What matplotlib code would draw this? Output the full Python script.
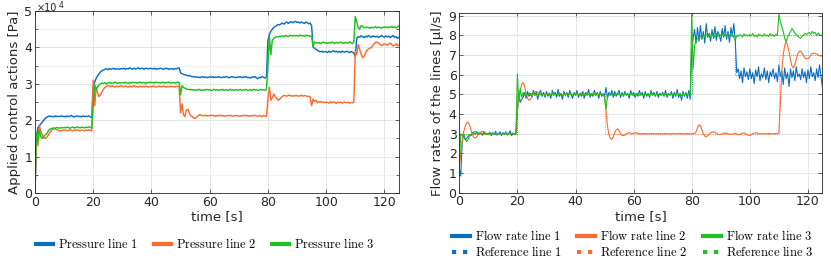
import numpy as np
import matplotlib
matplotlib.use('Agg')
import matplotlib.pyplot as plt
from matplotlib.ticker import MultipleLocator, FuncFormatter

matplotlib.rcParams.update({'font.family': 'DejaVu Sans', 'font.size': 9,
                            'mathtext.fontset': 'cm'})

# sample times [s], one value every 0.5 s
t = np.arange(0, 125.01, 0.5)

# applied pressures, in units of 1e4 Pa (one row = 10 s)
p1 = [0.0, 1.5, 1.8, 1.85, 1.9, 1.95, 2.0, 2.05, 2.08, 2.1, 2.12, 2.1, 2.11, 2.09, 2.12, 2.1, 2.11, 2.1, 2.12, 2.1,
      2.11, 2.09, 2.12, 2.1, 2.11, 2.13, 2.1, 2.09, 2.11, 2.12, 2.1, 2.11, 2.09, 2.12, 2.1, 2.11, 2.1, 2.12, 2.09, 2.08,
      2.95, 3.05, 3.15, 3.22, 3.28, 3.33, 3.36, 3.38, 3.4, 3.41, 3.39, 3.42, 3.4, 3.41, 3.43, 3.4, 3.42, 3.41, 3.4, 3.42,
      3.41, 3.43, 3.4, 3.42, 3.41, 3.44, 3.42, 3.4, 3.43, 3.41, 3.42, 3.44, 3.41, 3.43, 3.42, 3.4, 3.43, 3.42, 3.41, 3.43,
      3.42, 3.41, 3.43, 3.4, 3.42, 3.41, 3.43, 3.42, 3.4, 3.41, 3.43, 3.42, 3.4, 3.41, 3.42, 3.4, 3.42, 3.41, 3.43, 3.44,
      3.3, 3.28, 3.26, 3.25, 3.24, 3.22, 3.23, 3.21, 3.2, 3.19, 3.2, 3.18, 3.19, 3.17, 3.18, 3.2, 3.18, 3.19, 3.17, 3.18,
      3.19, 3.18, 3.2, 3.17, 3.19, 3.18, 3.2, 3.18, 3.17, 3.19, 3.18, 3.2, 3.19, 3.17, 3.18, 3.2, 3.19, 3.18, 3.17, 3.19,
      3.18, 3.2, 3.17, 3.19, 3.18, 3.2, 3.17, 3.18, 3.16, 3.19, 3.18, 3.2, 3.17, 3.14, 3.18, 3.17, 3.2, 3.18, 3.16, 3.2,
      4.2, 4.35, 4.45, 4.5, 4.55, 4.58, 4.6, 4.63, 4.62, 4.65, 4.67, 4.64, 4.68, 4.7, 4.66, 4.69, 4.71, 4.68, 4.7, 4.72,
      4.69, 4.7, 4.67, 4.7, 4.68, 4.66, 4.7, 4.68, 4.65, 4.67, 4.6, 4.02, 3.98, 3.95, 3.92, 3.9, 3.88, 3.9, 3.87, 3.89,
      3.88, 3.86, 3.9, 3.87, 3.89, 3.91, 3.88, 3.9, 3.87, 3.89, 3.86, 3.9, 3.88, 3.87, 3.9, 3.88, 3.86, 3.89, 3.87, 3.85,
      3.75, 4.25, 4.3, 4.28, 4.32, 4.3, 4.27, 4.31, 4.29, 4.33, 4.3, 4.28, 4.32, 4.3, 4.29, 4.31, 4.28, 4.3, 4.33, 4.3,
      4.28, 4.32, 4.29, 4.31, 4.27, 4.3, 4.33, 4.28, 4.3, 4.25, 4.28]
p2 = [0.0, 1.55, 1.3, 1.85, 1.7, 1.6, 1.52, 1.5, 1.53, 1.58, 1.65, 1.7, 1.75, 1.77, 1.76, 1.74, 1.72, 1.71, 1.72, 1.73,
      1.72, 1.73, 1.71, 1.72, 1.74, 1.72, 1.71, 1.73, 1.72, 1.74, 1.72, 1.71, 1.73, 1.72, 1.71, 1.73, 1.72, 1.74, 1.72, 1.71,
      3.1, 2.4, 2.9, 2.75, 2.65, 2.7, 2.78, 2.85, 2.9, 2.93, 2.95, 2.94, 2.92, 2.95, 2.93, 2.91, 2.94, 2.92, 2.93, 2.95,
      2.93, 2.92, 2.94, 2.93, 2.91, 2.94, 2.92, 2.93, 2.95, 2.92, 2.93, 2.91, 2.94, 2.92, 2.93, 2.92, 2.94, 2.93, 2.91, 2.93,
      2.92, 2.94, 2.93, 2.91, 2.92, 2.94, 2.93, 2.92, 2.94, 2.93, 2.91, 2.93, 2.92, 2.94, 2.92, 2.93, 2.91, 2.94, 2.93, 2.92,
      2.2, 2.45, 2.15, 2.1, 2.28, 2.3, 2.2, 2.12, 2.1, 2.06, 2.05, 2.08, 2.12, 2.15, 2.14, 2.13, 2.12, 2.14, 2.12, 2.13,
      2.12, 2.14, 2.13, 2.12, 2.11, 2.13, 2.12, 2.14, 2.12, 2.13, 2.11, 2.12, 2.13, 2.12, 2.14, 2.12, 2.11, 2.13, 2.12, 2.13,
      2.12, 2.11, 2.13, 2.12, 2.14, 2.12, 2.13, 2.11, 2.12, 2.13, 2.12, 2.14, 2.12, 2.11, 2.13, 2.12, 2.1, 2.13, 2.12, 2.11,
      2.6, 2.9, 2.55, 2.62, 2.72, 2.65, 2.6, 2.55, 2.58, 2.62, 2.66, 2.68, 2.67, 2.66, 2.69, 2.68, 2.67, 2.66, 2.68, 2.67,
      2.68, 2.66, 2.67, 2.69, 2.66, 2.68, 2.67, 2.65, 2.66, 2.64, 2.4, 2.58, 2.52, 2.55, 2.48, 2.5, 2.52, 2.49, 2.5, 2.48,
      2.5, 2.49, 2.47, 2.51, 2.48, 2.5, 2.49, 2.46, 2.5, 2.48, 2.5, 2.47, 2.49, 2.5, 2.48, 2.5, 2.47, 2.49, 2.48, 2.5,
      3.9, 3.8, 4.08, 3.95, 3.82, 3.72, 3.75, 3.85, 3.92, 3.96, 3.98, 4.0, 4.05, 4.1, 4.14, 4.15, 4.12, 4.08, 4.05, 4.08,
      4.1, 4.08, 4.06, 4.1, 4.12, 4.08, 4.04, 4.07, 4.1, 4.05, 4.08]
p3 = [0.3, 1.65, 1.4, 1.75, 1.55, 1.5, 1.55, 1.6, 1.62, 1.7, 1.75, 1.77, 1.78, 1.79, 1.78, 1.8, 1.79, 1.78, 1.8, 1.79,
      1.8, 1.79, 1.81, 1.8, 1.78, 1.8, 1.81, 1.79, 1.8, 1.82, 1.8, 1.79, 1.81, 1.8, 1.79, 1.81, 1.8, 1.82, 1.8, 1.79,
      2.4, 2.98, 2.85, 2.92, 2.97, 3.0, 3.02, 3.01, 3.03, 3.0, 3.02, 3.04, 3.01, 3.03, 3.02, 3.05, 3.03, 3.01, 3.04, 3.02,
      3.04, 3.02, 3.05, 3.03, 3.01, 3.04, 3.02, 3.05, 3.03, 3.04, 3.02, 3.03, 3.05, 3.02, 3.04, 3.03, 3.01, 3.04, 3.03, 3.05,
      3.03, 3.04, 3.02, 3.05, 3.03, 3.04, 3.02, 3.03, 3.05, 3.02, 3.04, 3.03, 3.05, 3.02, 3.03, 3.04, 3.02, 3.03, 3.05, 3.04,
      2.7, 2.95, 2.9, 2.88, 2.86, 2.85, 2.84, 2.85, 2.83, 2.84, 2.82, 2.84, 2.83, 2.85, 2.83, 2.82, 2.84, 2.83, 2.85, 2.83,
      2.84, 2.82, 2.83, 2.85, 2.83, 2.84, 2.82, 2.84, 2.83, 2.85, 2.82, 2.84, 2.83, 2.82, 2.85, 2.83, 2.84, 2.82, 2.84, 2.83,
      2.83, 2.85, 2.82, 2.84, 2.83, 2.85, 2.82, 2.83, 2.84, 2.82, 2.85, 2.83, 2.84, 2.82, 2.83, 2.85, 2.83, 2.84, 2.82, 2.85,
      3.5, 4.3, 3.8, 4.2, 4.25, 4.28, 4.3, 4.29, 4.31, 4.3, 4.32, 4.3, 4.33, 4.31, 4.3, 4.32, 4.34, 4.31, 4.33, 4.32,
      4.33, 4.31, 4.34, 4.32, 4.33, 4.31, 4.34, 4.32, 4.33, 4.3, 4.32, 4.02, 4.15, 4.13, 4.12, 4.14, 4.1, 4.13, 4.15, 4.12,
      4.13, 4.11, 4.14, 4.12, 4.15, 4.13, 4.11, 4.14, 4.12, 4.13, 4.15, 4.12, 4.11, 4.14, 4.13, 4.12, 4.15, 4.13, 4.11, 4.14,
      4.85, 4.7, 4.55, 4.5, 4.6, 4.58, 4.55, 4.54, 4.56, 4.55, 4.53, 4.56, 4.54, 4.55, 4.57, 4.54, 4.56, 4.55, 4.53, 4.56,
      4.55, 4.57, 4.54, 4.56, 4.55, 4.58, 4.55, 4.57, 4.54, 4.56, 4.6]

# measured flow rates [ul/s]
q1 = [1.2, 0.85, 2.6, 3.0, 2.7, 2.75, 2.85, 2.95, 2.9, 3.0, 3.05, 2.98, 3.08, 2.95, 3.05, 3.0, 2.92, 3.1, 2.98, 3.02,
      2.95, 3.08, 2.9, 3.05, 2.97, 3.12, 2.92, 3.0, 3.1, 2.9, 3.06, 2.96, 3.1, 2.93, 3.02, 3.15, 2.9, 3.04, 2.95, 3.1,
      4.2, 5.0, 4.6, 4.75, 4.85, 5.1, 4.8, 5.15, 4.9, 5.05, 4.85, 5.2, 4.95, 5.1, 4.75, 5.05, 5.2, 4.9, 5.1, 4.85,
      5.15, 4.9, 5.05, 4.8, 5.2, 4.95, 5.1, 4.85, 5.25, 4.9, 5.05, 4.75, 5.15, 4.95, 5.1, 4.85, 5.2, 5.0, 4.8, 5.1,
      4.95, 5.2, 4.85, 5.05, 4.9, 5.15, 4.8, 5.1, 4.95, 5.25, 4.85, 5.05, 4.9, 5.2, 4.95, 5.1, 4.8, 5.15, 4.9, 5.05,
      4.9, 5.35, 4.8, 5.1, 4.95, 5.2, 4.85, 5.15, 4.9, 5.05, 5.2, 4.85, 5.1, 4.9, 5.15, 4.95, 5.05, 4.8, 5.2, 4.95,
      5.1, 4.85, 5.05, 4.9, 5.2, 4.95, 5.1, 4.8, 5.15, 4.9, 5.05, 4.85, 5.2, 4.95, 5.1, 4.9, 5.15, 4.85, 5.05, 4.95,
      5.1, 4.9, 5.2, 4.85, 5.05, 4.95, 5.15, 4.8, 5.1, 4.9, 5.25, 4.85, 5.05, 4.7, 5.15, 4.9, 5.1, 4.8, 5.2, 4.75,
      7.2, 7.9, 8.3, 7.6, 8.4, 7.7, 8.5, 7.8, 8.2, 7.6, 8.6, 7.9, 8.1, 7.7, 8.3, 7.85, 8.45, 7.75, 8.2, 8.0,
      7.7, 8.35, 7.9, 8.5, 7.8, 8.2, 7.65, 8.4, 7.95, 8.6, 7.7, 6.1, 6.3, 5.8, 6.2, 5.6, 6.35, 5.9, 6.15, 5.75,
      6.3, 5.8, 6.1, 5.55, 6.25, 5.9, 6.4, 5.7, 6.05, 5.85, 6.35, 5.75, 6.2, 5.6, 6.15, 5.9, 6.3, 5.8, 6.1, 5.65,
      6.5, 5.9, 6.2, 5.5, 6.35, 5.8, 6.1, 5.4, 6.3, 5.85, 6.2, 5.7, 6.4, 5.9, 6.05, 5.75, 6.3, 5.85, 6.15, 5.6,
      6.25, 5.8, 6.4, 5.9, 6.1, 5.7, 6.3, 5.85, 6.5, 5.9, 5.35]
q2 = [1.3, 2.0, 2.6, 3.1, 3.35, 3.55, 3.58, 3.45, 3.2, 2.95, 2.8, 2.78, 2.85, 2.95, 3.05, 3.1, 3.12, 3.1, 3.05, 3.0,
      2.98, 2.97, 3.0, 3.02, 3.01, 3.0, 2.99, 3.0, 3.01, 3.0, 2.99, 3.0, 3.01, 3.0, 2.99, 3.0, 3.01, 3.0, 3.0, 2.99,
      4.1, 4.9, 5.25, 5.5, 5.6, 5.4, 5.05, 4.8, 4.7, 4.75, 4.9, 5.05, 5.12, 5.15, 5.1, 5.05, 5.02, 4.98, 5.0, 5.02,
      5.01, 5.0, 4.99, 5.0, 5.01, 5.0, 5.0, 4.99, 5.0, 5.01, 5.0, 5.0, 4.99, 5.0, 5.01, 5.0, 5.0, 4.99, 5.01, 5.0,
      5.0, 5.01, 5.0, 4.99, 5.0, 5.0, 5.01, 5.0, 4.99, 5.0, 5.01, 5.0, 5.0, 4.99, 5.0, 5.01, 5.0, 5.0, 4.99, 5.0,
      4.9, 4.2, 3.4, 2.95, 2.75, 2.72, 2.85, 3.05, 3.2, 3.25, 3.15, 3.0, 2.92, 2.9, 2.94, 3.0, 3.04, 3.05, 3.03, 3.0,
      3.02, 3.05, 3.04, 3.01, 3.0, 2.99, 3.0, 3.01, 3.0, 3.0, 2.99, 3.0, 3.01, 3.0, 3.0, 2.99, 3.0, 3.01, 3.0, 3.0,
      2.99, 3.0, 3.01, 3.0, 3.0, 2.99, 3.0, 3.01, 3.0, 3.0, 2.99, 3.0, 3.01, 3.0, 3.0, 2.99, 3.0, 3.01, 3.0, 3.0,
      3.0, 3.0, 3.02, 3.1, 3.3, 3.45, 3.4, 3.2, 3.0, 2.88, 2.85, 2.9, 2.98, 3.05, 3.08, 3.1, 3.07, 3.02, 2.97, 2.95,
      2.97, 3.0, 3.02, 3.03, 3.02, 3.0, 2.98, 2.97, 2.98, 3.0, 3.02, 2.98, 2.95, 2.96, 3.0, 3.03, 3.04, 3.02, 2.96, 2.92,
      2.9, 2.95, 3.0, 3.03, 3.05, 3.03, 3.0, 2.98, 3.0, 3.01, 3.0, 2.99, 3.0, 3.01, 3.0, 3.0, 2.99, 3.0, 3.01, 3.0,
      3.05, 4.5, 6.2, 7.0, 7.5, 7.7, 7.5, 7.15, 6.75, 6.45, 6.35, 6.5, 6.8, 7.05, 7.2, 7.2, 7.1, 6.95, 6.85, 6.8,
      6.82, 6.9, 7.0, 7.08, 7.1, 7.08, 7.05, 7.0, 6.97, 6.95, 6.97]
q3 = [1.3, 3.0, 2.9, 2.85, 2.75, 2.6, 2.7, 2.85, 2.95, 3.05, 3.1, 3.12, 3.08, 3.05, 3.02, 3.0, 3.03, 2.98, 3.01, 3.0,
      3.02, 2.98, 3.03, 2.97, 3.01, 3.04, 2.98, 3.0, 3.03, 2.97, 3.02, 2.99, 3.04, 2.98, 3.01, 3.03, 2.97, 3.02, 3.0, 2.98,
      6.05, 4.6, 5.3, 4.85, 5.1, 4.95, 5.05, 4.97, 5.08, 4.95, 5.05, 5.1, 4.95, 5.04, 4.98, 5.08, 4.96, 5.05, 5.0, 4.93,
      5.05, 4.97, 5.08, 4.94, 5.03, 5.1, 4.96, 5.02, 4.95, 5.07, 5.0, 4.93, 5.06, 4.98, 5.04, 4.95, 5.08, 5.0, 4.96, 5.05,
      4.98, 5.06, 4.95, 5.03, 5.08, 4.96, 5.02, 4.94, 5.07, 4.99, 5.04, 4.95, 5.06, 5.0, 4.97, 5.05, 4.96, 5.03, 4.98, 5.02,
      4.8, 4.25, 4.9, 4.95, 5.02, 4.97, 5.05, 4.95, 5.03, 4.98, 5.06, 4.96, 5.02, 4.95, 5.07, 4.99, 5.03, 4.94, 5.05, 5.0,
      4.96, 5.04, 4.98, 5.06, 4.95, 5.02, 5.0, 4.94, 5.05, 4.97, 5.03, 4.96, 5.07, 4.99, 5.02, 4.95, 5.04, 4.98, 5.06, 4.96,
      5.02, 4.95, 5.05, 4.98, 5.03, 4.96, 5.07, 4.97, 5.0, 4.94, 5.05, 4.98, 5.02, 4.93, 5.06, 4.97, 5.03, 4.96, 5.04, 4.98,
      9.1, 6.3, 7.5, 7.7, 7.85, 7.8, 7.95, 7.9, 8.0, 7.95, 8.05, 7.9, 8.1, 7.95, 8.05, 8.0, 7.9, 8.1, 7.95, 8.05,
      8.0, 8.1, 7.95, 8.05, 7.9, 8.1, 8.0, 7.95, 8.08, 7.9, 7.75, 8.0, 7.95, 8.05, 8.0, 7.92, 8.08, 7.97, 8.03, 7.95,
      8.05, 7.97, 8.1, 7.95, 8.02, 7.92, 8.07, 7.98, 8.03, 7.95, 8.08, 7.96, 8.02, 7.94, 8.1, 7.97, 8.04, 7.95, 8.06, 8.0,
      9.1, 8.7, 8.45, 8.2, 7.85, 7.7, 7.9, 8.05, 8.2, 8.35, 8.25, 8.1, 8.05, 7.95, 7.9, 7.85, 7.95, 8.02, 8.1, 8.05,
      8.1, 8.15, 8.05, 8.2, 8.1, 8.15, 8.0, 8.12, 8.05, 7.98, 8.05]

# reference set-points (piecewise constant)
r1_t = [0, 20, 80, 95, 125]
r1_v = [3, 5, 8, 6, 6]
r2_t = [0, 20, 50, 110, 125]
r2_v = [3, 5, 3, 7, 7]
r3_t = [0, 20, 80, 125]
r3_v = [3, 5, 8, 8]

blue = '#0a6fc4'
orange = '#ff6a2e'
green = '#1fc01f'
txt = '#262626'

fig = plt.figure(figsize=(8.31, 2.61), dpi=100)
ax1 = fig.add_axes([0.0421, 0.2605, 0.438, 0.697])
ax2 = fig.add_axes([0.5527, 0.2617, 0.437, 0.687])


def style(ax):
    for s in ax.spines.values():
        s.set_color(txt)
        s.set_linewidth(0.6)
    ax.tick_params(which='both', direction='in', top=True, right=True,
                   colors=txt, labelsize=9, width=0.5, length=3, pad=2)
    ax.tick_params(which='minor', length=2)
    ax.grid(True, which='major', color='#e2e2e2', lw=0.6)
    ax.set_axisbelow(True)


lp = lambda s: r'$\mathrm{' + s.replace(' ', r'\ ') + '}$'

# left: pressures
h = []
for y, c, name in [(p1, blue, 'Pressure line 1'), (p2, orange, 'Pressure line 2'),
                   (p3, green, 'Pressure line 3')]:
    ln, = ax1.plot(t, np.array(y) * 1e4, color=c, lw=1.05, label=lp(name))
    h.append(ln)
ax1.set_xlim(0, 125)
ax1.set_ylim(0, 5e4)
ax1.xaxis.set_major_locator(MultipleLocator(20))
ax1.yaxis.set_major_locator(MultipleLocator(1e4))
ax1.yaxis.set_minor_locator(MultipleLocator(0.5e4))
ax1.yaxis.set_major_formatter(FuncFormatter(lambda v, pos: '%g' % (v / 1e4)))
# exponent of the y axis, placed above the top-left corner
fig.text(0.0445, 0.958, '×10', ha='left', va='baseline', fontsize=7, color=txt)
fig.text(0.0705, 0.970, '4', ha='left', va='baseline', fontsize=5.5, color=txt)
style(ax1)
ax1.grid(True, which='minor', axis='y', color='#eeeeee', lw=0.5)
ax1.set_xlabel('time [s]', fontsize=9.5, color=txt, labelpad=1)
ax1.set_ylabel('Applied control actions [Pa]', fontsize=9.5, color=txt, labelpad=2)
leg1 = fig.legend(handles=h, loc='center', bbox_to_anchor=(0.247, 0.065), ncol=3,
                  frameon=False, fontsize=9, handlelength=1.4, columnspacing=1.2,
                  handletextpad=0.4)
for l in leg1.get_lines():
    l.set_linewidth(3)

# right: flow rates and references
hq = []
for y, rt, rv, c, n in [(q1, r1_t, r1_v, blue, '1'), (q2, r2_t, r2_v, orange, '2'),
                        (q3, r3_t, r3_v, green, '3')]:
    ln, = ax2.plot(t, y, color=c, lw=0.8, label=lp('Flow rate line ' + n))
    rl, = ax2.plot(rt, rv, color=c, lw=0.6, ls=':', drawstyle='steps-post',
                   label=lp('Reference line ' + n))
    hq += [ln, rl]
ax2.set_xlim(0, 125)
ax2.set_ylim(0, 9.12)
ax2.xaxis.set_major_locator(MultipleLocator(20))
ax2.yaxis.set_major_locator(MultipleLocator(1))
style(ax2)
ax2.set_xlabel('time [s]', fontsize=9.5, color=txt, labelpad=1)
ax2.set_ylabel('Flow rates of the lines [µl/s]', fontsize=9.5, color=txt, labelpad=3)
leg2 = fig.legend(handles=hq, loc='center', bbox_to_anchor=(0.761, 0.064), ncol=3,
                  frameon=False, fontsize=9, handlelength=1.4, columnspacing=1.3,
                  handletextpad=0.4, labelspacing=0.15)
for l in leg2.get_lines():
    l.set_linewidth(3)

fig.savefig('out.png', dpi=100)
